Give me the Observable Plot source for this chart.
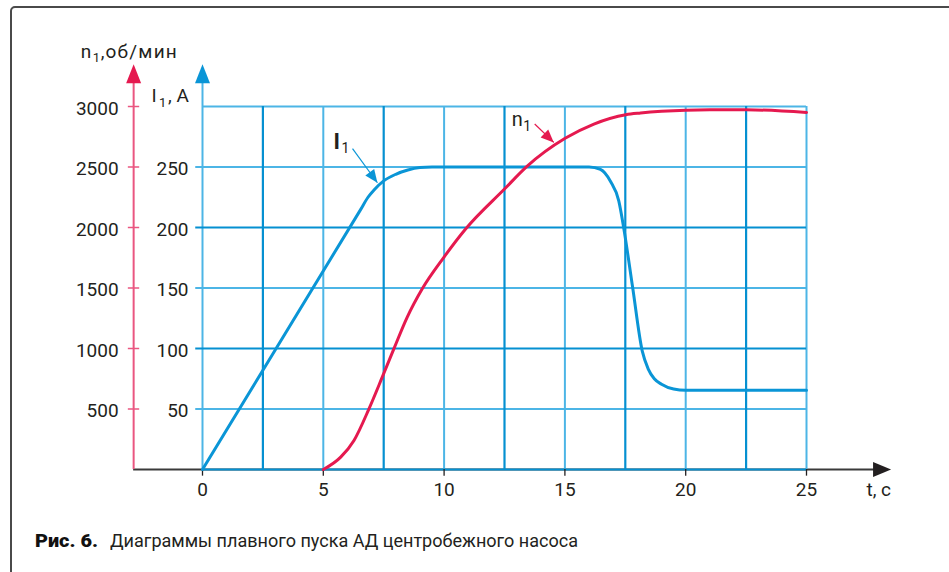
<!DOCTYPE html>
<html><head><meta charset="utf-8">
<script src="https://cdn.jsdelivr.net/npm/d3@7"></script>
<script src="https://cdn.jsdelivr.net/npm/@observablehq/plot@0.6"></script>
<style>
html,body{margin:0;padding:0;background:#fff;}
#wrap{position:relative;width:949px;height:572px;overflow:hidden;font-family:Roboto,"Liberation Sans",sans-serif;color:#231f20;}
#chart{position:absolute;left:0;top:0;}
#frame{position:absolute;left:10px;top:6px;width:980px;height:640px;border:2px solid #4a4a4a;border-radius:5px;box-sizing:border-box;pointer-events:none;}
.cap{position:absolute;top:532px;font-size:18px;line-height:18px;white-space:nowrap;transform-origin:0 0;}
#capB{font-weight:900;color:#111;}
.wide text{letter-spacing:1.2px;}
</style></head>
<body>
<div id="wrap">
  <div id="chart"></div>
  <div id="frame"></div>
  <span class="cap" id="capB">Рис. 6.</span>
  <span class="cap" id="capR">Диаграммы плавного пуска АД центробежного насоса</span>
</div>
<script>
// ---- data ----
const currentT = [0, 6.55, 6.85, 7.1, 7.5, 8.0, 8.5, 9.0, 9.5, 16.0, 16.47, 16.89, 17.23, 17.44, 17.8, 18.2, 18.45, 18.7, 19.0, 19.5, 20.0, 25];
const currentA = [0, 215, 225, 231, 238.5, 244, 247.5, 249.5, 250, 250, 248, 238, 222, 199, 151, 98, 83, 75, 70.5, 66.5, 65.5, 65.5];
const speedT = [5, 5.72, 6.27, 6.89, 7.44, 7.92, 8.47, 9.09, 9.99, 10.89, 12.5, 13.43, 15.01, 16.2, 17.52, 18.13, 19, 21, 22.5, 25];
const speedN = [0, 102, 240, 501, 763, 997, 1258, 1492, 1754, 1988, 2318, 2505, 2737, 2855, 2932, 2946, 2960, 2973, 2973, 2951];
const timeTicks = [0, 5, 10, 15, 20, 25];
const gridColsLight = [0, 5, 10, 15, 20, 25];
const gridColsDark = [2.5, 7.5, 12.5, 17.5, 22.5];
const gridRowsLight = [500, 1500, 2500, 3000];
const gridRowsDark = [0, 1000, 2000];
const speedTicks = [500, 1000, 1500, 2000, 2500, 3000];
const currentTicks = [50, 100, 150, 200, 250];
const speedAxisT = -2.85;      // position of the n1 axis on the time scale
const axisTop = 3350;          // arrow tips of the vertical axes
const axisLineTop = 3190;
const timeAxisEnd = 28.5;
// annotation arrows: start (t1, n1) -> tip (t2, n2)
const annoI = {t1: 6.21, n1: 2651, t2: 7.24, n2: 2370};
const annoN = {t1: 13.75, n1: 2855, t2: 14.54, n2: 2703};

// ---- layout / style ----
const W = 949, H = 572, mL = 202, mR = 143, mT = 106, mB = 103;
const kx = (W - mL - mR) / 25, ky = (H - mT - mB) / 3000;
const blue = "#0a95d6", gridLight = "#4cb5e6", gridDark = "#0590d1";
const pink = "#e5194f", pinkAxis = "#ea5680", ink = "#231f20";
const FONT = "Roboto, 'Liberation Sans', sans-serif";

const head = (len, wid) => ({draw(ctx) { ctx.moveTo(0, 0); ctx.lineTo(wid / 2, len); ctx.lineTo(-wid / 2, len); ctx.closePath(); }});
const rot = a => Math.atan2((a.t2 - a.t1) * kx, (a.n2 - a.n1) * ky) * 180 / Math.PI;

const currentData = currentT.map((t, i) => ({t, a: currentA[i]}));
const speedData = speedT.map((t, i) => ({t, n: speedN[i]}));

const chart = Plot.plot({
  width: W, height: H,
  marginLeft: mL, marginRight: mR, marginTop: mT, marginBottom: mB,
  x: {domain: [0, 25], axis: null},
  y: {domain: [0, 3000], axis: null},
  style: {fontFamily: FONT, fontSize: "19px", color: ink, background: "transparent", overflow: "visible"},
  marks: [
    // time axis (dark) with arrow
    Plot.ruleY([0], {x1: speedAxisT, x2: timeAxisEnd - 0.6, stroke: "#3a3a3a", strokeWidth: 2}),
    Plot.dot([timeAxisEnd], {x: d => d, y: 0, symbol: head(18, 15), rotate: 90, fill: ink, stroke: "none"}),
    // grid
    Plot.ruleX(gridColsLight, {x: d => d, y1: 0, y2: 3000, stroke: gridLight, strokeWidth: 2}),
    Plot.ruleY(gridRowsLight, {y: d => d, x1: d => d === 3000 ? 0 : -0.28, x2: 25, stroke: gridLight, strokeWidth: 2}),
    Plot.ruleX(gridColsDark, {x: d => d, y1: 0, y2: 3000, stroke: gridDark, strokeWidth: 2.2}),
    Plot.ruleY(gridRowsDark, {y: d => d, x1: d => d === 0 ? 0 : -0.28, x2: 25, stroke: gridDark, strokeWidth: 2.2}),
    // time ticks
    Plot.ruleX(timeTicks, {x: d => d, y1: 0, y2: -55, stroke: ink, strokeWidth: 1.3}),
    // speed axis (pink)
    Plot.ruleX([speedAxisT], {x: d => d, y1: 0, y2: axisLineTop, stroke: pinkAxis, strokeWidth: 2}),
    Plot.ruleY(speedTicks, {y: d => d, x1: speedAxisT - 0.22, x2: speedAxisT + 0.25, stroke: pinkAxis, strokeWidth: 1.5}),
    Plot.dot([speedAxisT], {x: d => d, y: axisTop, symbol: head(19, 15), fill: pink, stroke: "none"}),
    // current axis (blue)
    Plot.ruleX([0], {x: d => d, y1: 3000, y2: axisLineTop, stroke: gridLight, strokeWidth: 2}),
    Plot.dot([0], {x: d => d, y: axisTop, symbol: head(19, 15), fill: blue, stroke: "none"}),
    // tick labels
    Plot.text(timeTicks, {x: d => d, y: 0, text: d => String(d), dy: 20, fontSize: 19, fill: ink}),
    Plot.text(["t, с"], {x: timeAxisEnd, y: 0, text: d => d, textAnchor: "end", dy: 20, fontSize: 19, fill: ink}),
    Plot.text(speedTicks, {x: speedAxisT, y: d => d, text: d => String(d), textAnchor: "end", dx: -15, dy: 2, fontSize: 19, fill: ink}),
    Plot.text(currentTicks, {x: 0, y: d => d * 10, text: d => String(d), textAnchor: "end", dx: -14, dy: 2, fontSize: 19, fill: ink}),
    // axis titles
    Plot.text(["n"], {x: speedAxisT, y: axisTop, text: d => d, textAnchor: "start", dx: -53, dy: -12.5, fontSize: 19, fill: ink}),
    Plot.text(["1"], {x: speedAxisT, y: axisTop, text: d => d, textAnchor: "start", dx: -41, dy: -6.6, fontSize: 13, fill: ink}),
    Plot.text([",об/мин"], {x: speedAxisT, y: axisTop, text: d => d, textAnchor: "start", dx: -33, dy: -12.5, fontSize: 19, fill: ink, className: "wide"}),
    Plot.text(["I"], {x: 0, y: axisTop, text: d => d, textAnchor: "start", dx: -51, dy: 31.5, fontSize: 19, fill: ink}),
    Plot.text(["1"], {x: 0, y: axisTop, text: d => d, textAnchor: "start", dx: -43.5, dy: 38.4, fontSize: 13, fill: ink}),
    Plot.text([", A"], {x: 0, y: axisTop, text: d => d, textAnchor: "start", dx: -34.5, dy: 31.5, fontSize: 19, fill: ink}),
    // curves
    Plot.line(currentData, {x: "t", y: d => d.a * 10, stroke: blue, strokeWidth: 3, curve: "monotone-x"}),
    Plot.line(speedData, {x: "t", y: "n", stroke: pink, strokeWidth: 3, curve: "monotone-x"}),
    // annotations
    Plot.link([annoI], {x1: "t1", y1: "n1", x2: "t2", y2: "n2", stroke: blue, strokeWidth: 1.2}),
    Plot.dot([annoI], {x: "t2", y: "n2", symbol: head(13, 11), rotate: rot(annoI), fill: blue, stroke: "none"}),
    Plot.text(["I"], {x: annoI.t1, y: annoI.n1, text: d => d, textAnchor: "start", dx: -19, dy: -7, fontSize: 22, fontWeight: 700, fill: ink}),
    Plot.text(["1"], {x: annoI.t1, y: annoI.n1, text: d => d, textAnchor: "start", dx: -11, dy: -0.5, fontSize: 14, fill: ink}),
    Plot.link([annoN], {x1: "t1", y1: "n1", x2: "t2", y2: "n2", stroke: pink, strokeWidth: 1.2}),
    Plot.dot([annoN], {x: "t2", y: "n2", symbol: head(13, 11), rotate: rot(annoN), fill: pink, stroke: "none"}),
    Plot.text(["n"], {x: annoN.t1, y: annoN.n1, text: d => d, textAnchor: "start", dx: -23, dy: -4.7, fontSize: 20, fill: ink}),
    Plot.text(["1"], {x: annoN.t1, y: annoN.n1, text: d => d, textAnchor: "start", dx: -11.5, dy: 2.2, fontSize: 14, fill: ink})
  ]
});
document.getElementById("chart").appendChild(chart);

function fit(id, left, target) {
  const el = document.getElementById(id);
  el.style.left = left + "px";
  el.style.transform = "none";
  const w = el.getBoundingClientRect().width;
  el.style.transform = `scaleX(${target / w})`;
}
function fitAll() { fit("capB", 35, 63); fit("capR", 110, 468); }
fitAll();
if (document.fonts && document.fonts.ready) document.fonts.ready.then(fitAll);
</script>
</body></html>
